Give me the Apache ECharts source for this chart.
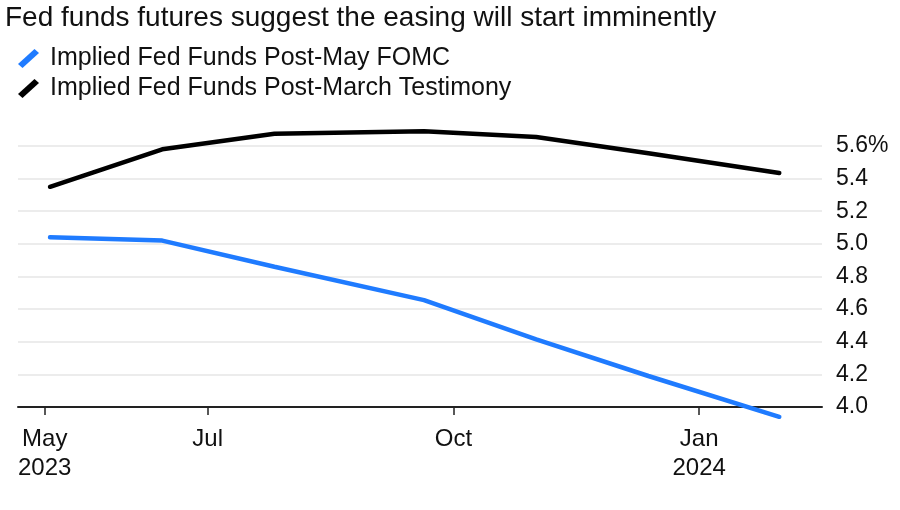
<!DOCTYPE html>
<html>
<head>
<meta charset="utf-8">
<script src="https://cdn.jsdelivr.net/npm/echarts@6/dist/echarts.min.js"></script>
<style>
html,body{margin:0;padding:0;background:#fff;}
#chart{width:900px;height:510px;}
</style>
</head>
<body>
<div id="chart"></div>
<script>
// ---- data ----
const titleText = 'Fed funds futures suggest the easing will start imminently';
const dates = ['2023-05-03','2023-06-14','2023-07-26','2023-09-20','2023-11-01','2023-12-13','2024-01-31'];
const postMay = [5.04, 5.02, 4.86, 4.655, 4.415, 4.19, 3.94];
const postMarch = [5.35, 5.58, 5.675, 5.69, 5.655, 5.555, 5.435];
const seriesNames = ['Implied Fed Funds Post-May FOMC', 'Implied Fed Funds Post-March Testimony'];
const xTickDates = ['2023-05-01','2023-07-01','2023-10-01','2024-01-01'];
const xTickLabels = ['May\n2023','Jul','Oct','Jan\n2024'];
const yTicks = [4.0, 4.2, 4.4, 4.6, 4.8, 5.0, 5.2, 5.4, 5.6];

function toTs(s){ const p = s.split('-').map(Number); return Date.UTC(p[0], p[1]-1, p[2]); }
const tickTs = xTickDates.map(toTs);
const FONT = '"Liberation Sans", Arial, sans-serif';

const chart = echarts.init(document.getElementById('chart'));
chart.setOption({
  animation: false,
  backgroundColor: '#fff',
  textStyle: { fontFamily: FONT },
  title: {
    text: titleText, left: 0, top: -1,
    textStyle: { fontSize: 28, fontWeight: 'normal', color: '#111', fontFamily: FONT }
  },
  legend: {
    orient: 'vertical', left: 13, top: 41, itemGap: 5,
    itemWidth: 21, itemHeight: 19,
    icon: 'path://M0,15 L16.5,0 L21,4 L4.5,19 Z',
    textStyle: { fontSize: 25, lineHeight: 25, color: '#111', fontFamily: FONT, padding: [0,0,0,6] },
    data: seriesNames
  },
  grid: { left: 18, right: 78, top: 146, bottom: 103 },
  xAxis: {
    type: 'value',
    min: toTs('2023-04-21'), max: toTs('2024-02-16'),
    axisLine: { show: true, lineStyle: { color: '#222', width: 2 } },
    axisTick: { show: true, length: 8, customValues: tickTs, lineStyle: { color: '#222', width: 1.5 } },
    axisLabel: {
      customValues: tickTs, margin: 18, fontSize: 24, color: '#111', lineHeight: 29,
      formatter: function(v){ const i = tickTs.indexOf(v); return i >= 0 ? xTickLabels[i] : ''; }
    },
    splitLine: { show: false }
  },
  yAxis: {
    type: 'value', position: 'right',
    min: 4.0, max: 5.6, interval: 0.2,
    axisLine: { show: false }, axisTick: { show: false },
    axisLabel: {
      margin: 14, fontSize: 23, color: '#111',
      formatter: function(v){ const r = Math.round(v*10)/10; return yTicks.indexOf(r) < 0 ? '' : (r === 5.6 ? '5.6%' : r.toFixed(1)); }
    },
    splitLine: { show: true, lineStyle: { color: '#e6e6e6', width: 1.5 } }
  },
  series: [
    {
      name: seriesNames[0], type: 'line', clip: false, showSymbol: false,
      color: '#1f7bff',
      lineStyle: { width: 4.5, color: '#1f7bff', cap: 'round' },
      data: dates.map((d,i) => [toTs(d), postMay[i]])
    },
    {
      name: seriesNames[1], type: 'line', clip: false, showSymbol: false,
      color: '#000',
      lineStyle: { width: 4.5, color: '#000', cap: 'round' },
      data: dates.map((d,i) => [toTs(d), postMarch[i]])
    }
  ]
});
</script>
</body>
</html>
